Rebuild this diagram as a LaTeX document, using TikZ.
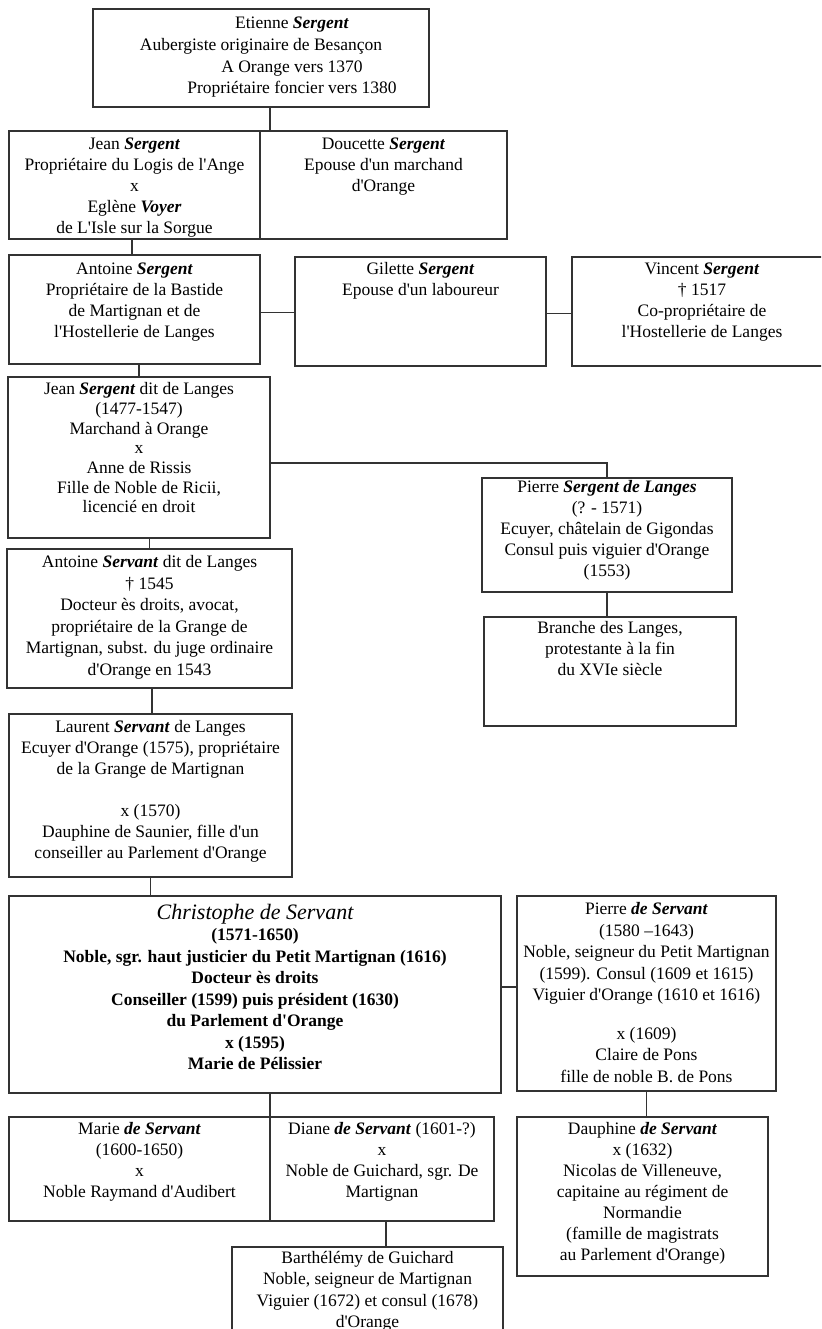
\documentclass[tikz,border=0pt]{standalone}
\usepackage{fontspec}
\setmainfont{Liberation Serif}[Ligatures=TeXOff]
\newcommand{\bi}[1]{\textbf{\textit{#1}}}
\tikzset{
  box/.style={draw=black!80, line width=1.4pt, rectangle, anchor=north west, inner sep=0pt, outer sep=0pt},
  txt/.style={anchor=north, align=center, inner sep=0pt, outer sep=0pt, font=\fontsize{17.5}{21}\selectfont},
  conn/.style={draw=black!80, line width=1.3pt},
}
\begin{document}
\begin{tikzpicture}[x=1pt,y=-1pt]
\useasboundingbox (0,0) rectangle (821,1329);
\clip (0,0) rectangle (821,1329);
% boxes
\node[box, minimum width=336pt, minimum height=98pt]  (etienne)    at (93,9) {};
\node[box, minimum width=251pt, minimum height=108pt] (jean)       at (9,131) {};
\node[box, minimum width=247pt, minimum height=108pt] (doucette)   at (260,131) {};
\node[box, minimum width=251pt, minimum height=109pt] (antoine)    at (9,255) {};
\node[box, minimum width=251pt, minimum height=109pt] (gilette)    at (295,257) {};
\node[box, minimum width=260pt, minimum height=109pt] (vincent)    at (572,257) {};
\node[box, minimum width=262pt, minimum height=161pt] (jeanl)      at (8,377) {};
\node[box, minimum width=250pt, minimum height=114pt] (pierrel)    at (482,478) {};
\node[box, minimum width=252pt, minimum height=109pt] (branche)    at (484,617) {};
\node[box, minimum width=285pt, minimum height=139pt] (antoines)   at (7,549) {};
\node[box, minimum width=283pt, minimum height=163pt] (laurent)    at (9,714) {};
\node[box, minimum width=492pt, minimum height=197pt] (christophe) at (9,896) {};
\node[box, minimum width=259pt, minimum height=195pt] (pierres)    at (517,896) {};
\node[box, minimum width=261pt, minimum height=104pt] (marie)      at (9,1117) {};
\node[box, minimum width=224pt, minimum height=104pt] (diane)      at (270,1117) {};
\node[box, minimum width=271pt, minimum height=113pt] (barth)      at (232,1247) {};
\node[box, minimum width=251pt, minimum height=159pt] (dauphine)   at (517,1117) {};
% texts
\node[txt, font=\fontsize{17.5}{21.8}\selectfont] (etienne-t) at ([yshift=-8pt]etienne.north) {\hspace*{62pt}Etienne \bi{Sergent}\\Aubergiste originaire de Besançon\\\hspace*{62pt}A Orange vers 1370\\\hspace*{62pt}Propriétaire foncier vers 1380};
\node[txt] (jean-t) at ([yshift=-6.5pt]jean.north) {Jean \bi{Sergent}\\Propriétaire du Logis de l'Ange\\x\\Eglène \bi{Voyer}\\de L'Isle sur la Sorgue};
\node[txt] (doucette-t) at ([yshift=-6.5pt]doucette.north) {Doucette \bi{Sergent}\\Epouse d'un marchand\\d'Orange};
\node[txt] (antoine-t) at ([yshift=-7.5pt]antoine.north) {Antoine \bi{Sergent}\\Propriétaire de la Bastide\\de Martignan et de\\l'Hostellerie de Langes};
\node[txt] (gilette-t) at ([yshift=-5.5pt]gilette.north) {Gilette \bi{Sergent}\\Epouse d'un laboureur};
\node[txt] (vincent-t) at ([yshift=-5.5pt]vincent.north) {Vincent \bi{Sergent}\\† 1517\\Co-propriétaire de\\l'Hostellerie de Langes};
\node[txt, font=\fontsize{17.5}{19.7}\selectfont] (jeanl-t) at ([yshift=-5.5pt]jeanl.north) {Jean \bi{Sergent} dit de Langes\\(1477-1547)\\Marchand à Orange\\x\\Anne de Rissis\\Fille de Noble de Ricii,\\licencié en droit};
\node[txt] (pierrel-t) at ([yshift=-2.5pt]pierrel.north) {Pierre \bi{Sergent de Langes}\\(? - 1571)\\Ecuyer, châtelain de Gigondas\\Consul puis viguier d'Orange\\(1553)};
\node[txt] (branche-t) at ([yshift=-4.5pt]branche.north) {Branche des Langes,\\protestante à la fin\\du XVIe siècle};
\node[txt, font=\fontsize{17.5}{21.5}\selectfont] (antoines-t) at ([yshift=-6.5pt]antoines.north) {Antoine \bi{Servant} dit de Langes\\† 1545\\Docteur ès droits, avocat,\\propriétaire de la Grange de\\Martignan, subst. du juge ordinaire\\d'Orange en 1543};
\node[txt] (laurent-t) at ([yshift=-6.5pt]laurent.north) {Laurent \bi{Servant} de Langes\\Ecuyer d'Orange (1575), propriétaire\\de la Grange de Martignan\\[21pt]x (1570)\\Dauphine de Saunier, fille d'un\\conseiller au Parlement d'Orange};
\node[txt, font=\fontsize{17.5}{21.5}\selectfont\bfseries] (christophe-t) at ([yshift=-8pt]christophe.north) {{\fontsize{22}{22}\selectfont\mdseries\itshape Christophe de Servant}\\(1571-1650)\\Noble, sgr. haut justicier du Petit Martignan (1616)\\Docteur ès droits\\Conseiller (1599) puis président (1630)\\du Parlement d'Orange\\x (1595)\\Marie de Pélissier};
\node[txt, font=\fontsize{17.5}{21.5}\selectfont] (pierres-t) at ([yshift=-6.5pt]pierres.north) {Pierre \bi{de Servant}\\(1580 –1643)\\Noble, seigneur du Petit Martignan\\(1599). Consul (1609 et 1615)\\Viguier d'Orange (1610 et 1616)\\[17pt]x (1609)\\Claire de Pons\\fille de noble B. de Pons};
\node[txt] (marie-t) at ([yshift=-5.5pt]marie.north) {Marie \bi{de Servant}\\(1600-1650)\\x\\Noble Raymand d'Audibert};
\node[txt] (diane-t) at ([yshift=-5.5pt]diane.north) {Diane \bi{de Servant} (1601-?)\\x\\Noble de Guichard, sgr. De\\Martignan};
\node[txt] (dauphine-t) at ([yshift=-5.5pt]dauphine.north) {Dauphine \bi{de Servant}\\x (1632)\\Nicolas de Villeneuve,\\capitaine au régiment de\\Normandie\\(famille de magistrats\\au Parlement d'Orange)};
\node[txt, font=\fontsize{17.5}{21.3}\selectfont] (barth-t) at ([yshift=-4.5pt]barth.north) {Barthélémy de Guichard\\Noble, seigneur de Martignan\\Viguier (1672) et consul (1678)\\d'Orange};
% connectors
\draw[conn] ([xshift=9pt]etienne.south) -- ([xshift=9pt]etienne.south |- doucette.north);
\draw[conn] ([xshift=-2.5pt]jean.south) -- ([xshift=-2.5pt]jean.south |- antoine.north);
\draw[conn] (jeanl.north |- antoine.south) -- (jeanl.north);
\draw[conn] ([yshift=-3pt]antoine.east) -- ([yshift=-3pt]antoine.east -| gilette.west);
\draw[conn] ([yshift=-2pt]gilette.east) -- ([yshift=-2pt]gilette.east -| vincent.west);
\draw[conn] ([yshift=-5.5pt]jeanl.east) -| (pierrel.north);
\draw[conn] (pierrel.south) -- (pierrel.south |- branche.north);
\draw[conn] (antoines.north |- jeanl.south) -- (antoines.north);
\draw[conn] ([xshift=2.5pt]antoines.south) -- ([xshift=2.5pt]antoines.south |- laurent.north);
\draw[conn] (laurent.south) -- (laurent.south |- christophe.north);
\draw[conn] ([yshift=7.5pt]christophe.east) -- ([yshift=7.5pt]christophe.east -| pierres.west);
\draw[conn] (marie.north east |- christophe.south) -- (marie.north east);
\draw[conn] ([xshift=4pt]diane.south) -- ([xshift=4pt]diane.south |- barth.north);
\draw[conn] (pierres.south) -- (pierres.south |- dauphine.north);
\end{tikzpicture}
\end{document}
